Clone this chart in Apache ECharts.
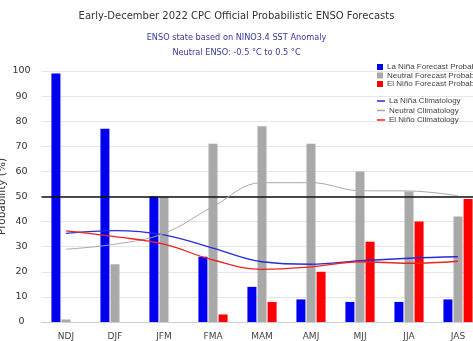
<!DOCTYPE html>
<html>
<head>
<meta charset="utf-8">
<script src="https://cdn.jsdelivr.net/npm/echarts@6/dist/echarts.min.js"></script>
<style>
html,body{margin:0;padding:0;background:#fff;}
#chart{width:473px;height:341px;}
</style>
</head>
<body>
<div id="chart"></div>
<script>
const categories = ['NDJ','DJF','JFM','FMA','MAM','AMJ','MJJ','JJA','JAS'];
const laNinaProb = [99, 77, 50, 26, 14, 9, 8, 8, 9];
const neutralProb = [1, 23, 50, 71, 78, 71, 60, 52, 42];
const elNinoProb = [0, 0, 0, 3, 8, 20, 32, 40, 49];
const laNinaClim = [35.3, 36.4, 34.7, 29.4, 24, 23, 24.4, 25.4, 26];
const neutralClim = [29, 31, 35.3, 46, 55.5, 55.5, 52.3, 52.2, 50.3];
const elNinoClim = [36.3, 34, 31, 24.7, 21, 22, 24, 23.4, 24.2];
const yTicks = [0, 10, 20, 30, 40, 50, 60, 70, 80, 90, 100];

const FONT = 'DejaVu Sans';
const LFONT = 'Liberation Sans';
const chart = echarts.init(document.getElementById('chart'));
chart.setOption({
  animation: false,
  backgroundColor: '#fff',
  title: [
    {text: 'Early-December 2022 CPC Official Probabilistic ENSO Forecasts', left: 'center', top: 6,
     textStyle: {fontFamily: FONT, fontSize: 10, fontWeight: 'normal', color: '#333'}},
    {text: 'ENSO state based on NINO3.4 SST Anomaly', left: 'center', top: 28.5,
     textStyle: {fontFamily: FONT, fontSize: 8.2, fontWeight: 'normal', color: '#3a3a96'}},
    {text: 'Neutral ENSO: -0.5 °C to 0.5 °C', left: 'center', top: 43.5,
     textStyle: {fontFamily: FONT, fontSize: 8.2, fontWeight: 'normal', color: '#3a3a96'}}
  ],
  legend: [
    {orient: 'vertical', left: 372, top: 58, itemWidth: 6, itemHeight: 6, itemGap: 0.5,
     icon: 'rect',
     textStyle: {fontFamily: LFONT, fontSize: 8, color: '#444', padding: [0,0,0,-1]},
     data: ['La Niña Forecast Probability','Neutral Forecast Probability','El Niño Forecast Probability']},
    {orient: 'vertical', left: 372, top: 92, itemWidth: 8, itemHeight: 1.5, itemGap: 1.5,
     icon: 'rect',
     textStyle: {fontFamily: LFONT, fontSize: 8, color: '#444', padding: [0,0,0,-1]},
     data: ['La Niña Climatology','Neutral Climatology','El Niño Climatology']}
  ],
  grid: {left: 41.5, right: -9.5, top: 71, bottom: 19, containLabel: false, outerBoundsMode: 'none'},
  xAxis: {
    type: 'category', data: categories,
    axisLine: {lineStyle: {color: '#c8d0e0', width: 1}},
    axisTick: {show: false},
    axisLabel: {fontFamily: FONT, fontSize: 9, color: '#444', margin: 10}
  },
  yAxis: {
    type: 'value', min: yTicks[0], max: yTicks[yTicks.length-1], interval: 10,
    name: 'Probability (%)', nameLocation: 'middle', nameGap: 34, nameRotate: 90,
    nameMoveOverlap: false,
    nameTextStyle: {fontFamily: FONT, fontSize: 10.5, color: '#333'},
    axisLine: {show: false}, axisTick: {show: false},
    axisLabel: {fontFamily: FONT, fontSize: 9.5, color: '#333', align: 'center', margin: 20},
    splitLine: {lineStyle: {color: '#e6e6e6', width: 1}}
  },
  series: [
    {name: 'La Niña Forecast Probability', type: 'bar', data: laNinaProb, barWidth: 9, barGap: '12%',
     itemStyle: {color: '#0000f0'},
     markLine: {silent: true, symbol: 'none', label: {show: false},
       lineStyle: {color: '#111', width: 1.5, type: 'solid'}, data: [{yAxis: 50}]}},
    {name: 'Neutral Forecast Probability', type: 'bar', data: neutralProb, barWidth: 9, barGap: '12%',
     itemStyle: {color: '#a9a9a9'}},
    {name: 'El Niño Forecast Probability', type: 'bar', data: elNinoProb, barWidth: 9, barGap: '12%',
     itemStyle: {color: '#ff0000'}},
    {name: 'La Niña Climatology', type: 'line', data: laNinaClim, smooth: 0.4, symbol: 'none',
     lineStyle: {color: '#2a2ad8', width: 1.3}, itemStyle: {color: '#2a2ad8'}, z: 5},
    {name: 'Neutral Climatology', type: 'line', data: neutralClim, smooth: 0.4, symbol: 'none',
     lineStyle: {color: '#aaaaaa', width: 1}, itemStyle: {color: '#aaaaaa'}, z: 5},
    {name: 'El Niño Climatology', type: 'line', data: elNinoClim, smooth: 0.4, symbol: 'none',
     lineStyle: {color: '#ee2222', width: 1.3}, itemStyle: {color: '#ee2222'}, z: 5}
  ]
});
</script>
</body>
</html>
